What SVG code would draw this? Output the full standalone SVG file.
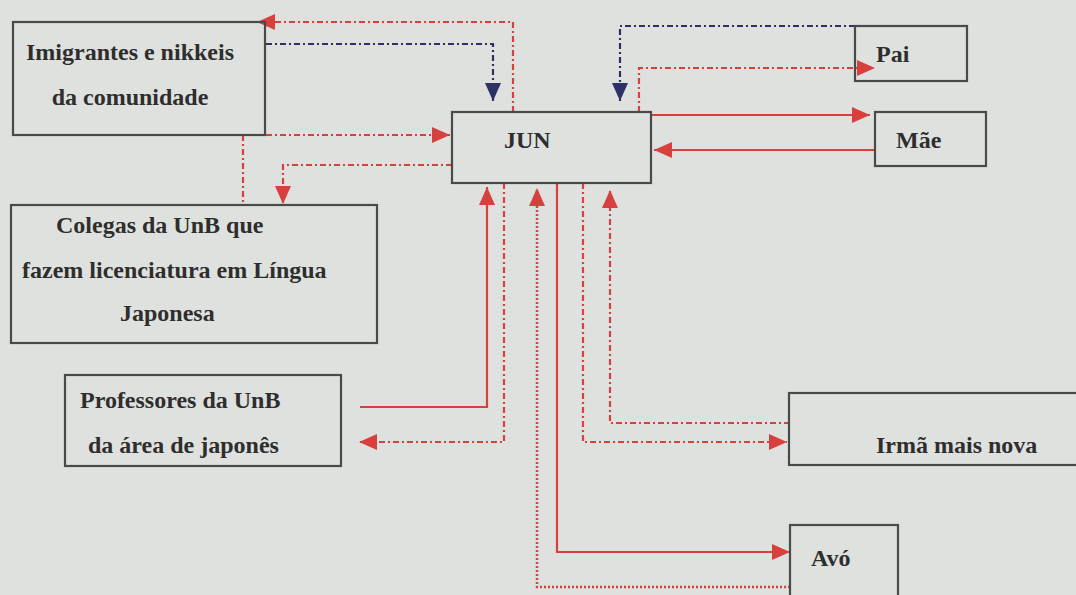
<svg xmlns="http://www.w3.org/2000/svg" width="1076" height="595" viewBox="0 0 1076 595">
<style>
.box{fill:none;stroke:#4a4a4a;stroke-width:2.2}
.t{font-family:'Liberation Serif','DejaVu Serif',serif;font-weight:bold;font-size:24px;fill:#2e2e2e}
.r{fill:none;stroke:#d8403e;stroke-width:2.2}
.rd{fill:none;stroke:#d8403e;stroke-width:2.2;stroke-dasharray:6 3 2 3}
.rdot{fill:none;stroke:#d8403e;stroke-width:2.5;stroke-dasharray:2 2}
.nd{fill:none;stroke:#2d3266;stroke-width:2.2;stroke-dasharray:6 3 2 3}
</style>
<defs>
<marker id="ar" markerUnits="userSpaceOnUse" markerWidth="20" markerHeight="20" refX="18" refY="10" orient="auto" viewBox="0 0 20 20">
<path d="M0,2 L18,10 L0,18 Z" fill="#d8403e"/>
</marker>
<marker id="an" markerUnits="userSpaceOnUse" markerWidth="20" markerHeight="20" refX="18" refY="10" orient="auto" viewBox="0 0 20 20">
<path d="M0,2 L18,10 L0,18 Z" fill="#2d3266"/>
</marker>
</defs>
<rect width="1076" height="595" fill="#dfe1de"/>
<g id="connectors">
<path class="rd" d="M513,112 V22 H257" marker-end="url(#ar)"/>
<path class="nd" d="M266,44 H493 V101" marker-end="url(#an)"/>
<path class="rd" d="M266,135 H450" marker-end="url(#ar)"/>
<path class="rd" d="M452,165 H283 V204" marker-end="url(#ar)"/>
<path class="rd" d="M243,135 V205"/>
<path class="nd" d="M855,26 H620 V101" marker-end="url(#an)"/>
<path class="rd" d="M639,112 V68 H875" marker-end="url(#ar)"/>
<path class="r" d="M651,115 H870" marker-end="url(#ar)"/>
<path class="r" d="M875,150 H654" marker-end="url(#ar)"/>
<path class="r" d="M360,407 H487 V187" marker-end="url(#ar)"/>
<path class="rd" d="M504,183 V442 H359" marker-end="url(#ar)"/>
<path class="rdot" d="M790,587 H537 V188" marker-end="url(#ar)"/>
<path class="r" d="M557,183 V552 H790" marker-end="url(#ar)"/>
<path class="rd" d="M583,183 V442 H787" marker-end="url(#ar)"/>
<path class="rd" d="M790,423 H610 V190" marker-end="url(#ar)"/>
</g>
<g id="imigrantes">
<rect class="box" x="13" y="22" width="252" height="113"/>
<text class="t" x="130" y="60" text-anchor="middle">Imigrantes e nikkeis</text>
<text class="t" x="130" y="105" text-anchor="middle">da comunidade</text>
</g>
<g id="jun">
<rect class="box" x="452" y="112" width="199" height="71"/>
<text class="t" x="504" y="148">JUN</text>
</g>
<g id="pai">
<rect class="box" x="855" y="26" width="112" height="55"/>
<text class="t" x="876" y="62">Pai</text>
</g>
<g id="mae">
<rect class="box" x="875" y="112" width="111" height="54"/>
<text class="t" x="896" y="148">Mãe</text>
</g>
<g id="colegas">
<rect class="box" x="11" y="205" width="366" height="138"/>
<text class="t" x="56" y="233">Colegas da UnB que</text>
<text class="t" x="22" y="278">fazem licenciatura em Língua</text>
<text class="t" x="120" y="321">Japonesa</text>
</g>
<g id="professores">
<rect class="box" x="65" y="375" width="276" height="91"/>
<text class="t" x="80" y="408">Professores da UnB</text>
<text class="t" x="88" y="453">da área de japonês</text>
</g>
<g id="irma">
<rect class="box" x="789" y="393" width="300" height="72"/>
<text class="t" x="876" y="453">Irmã mais nova</text>
</g>
<g id="avo">
<rect class="box" x="790" y="525" width="108" height="80"/>
<text class="t" x="811" y="566">Avó</text>
</g>
</svg>
